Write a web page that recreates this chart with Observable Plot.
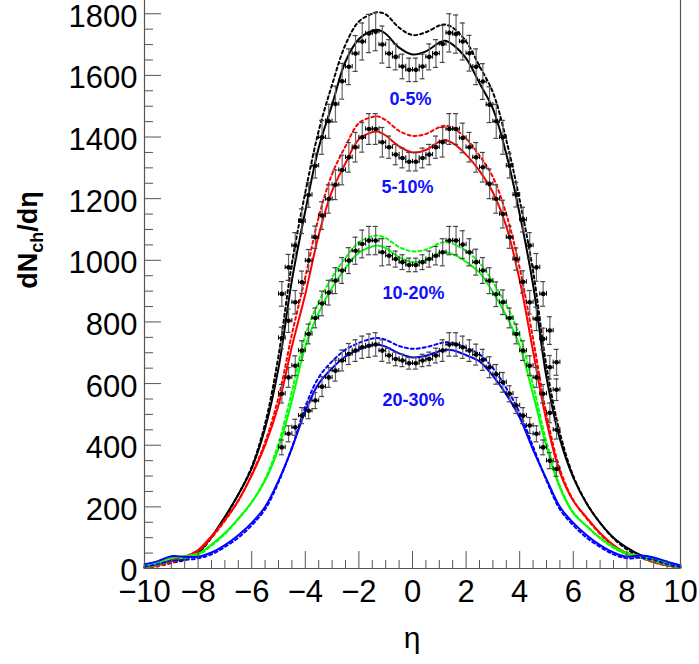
<!DOCTYPE html>
<html><head><meta charset="utf-8">
<script src="https://cdn.jsdelivr.net/npm/d3@7"></script>
<script src="https://cdn.jsdelivr.net/npm/@observablehq/plot@0.6"></script>
<style>body{margin:0;background:#fff} svg{display:block}</style>
</head><body><div id="chart"></div>
<script>
// ---- data ----
const classes = ["0-5%", "5-10%", "10-20%", "20-30%"];
const colors = ["#000000", "#ff0000", "#00ff00", "#0000ff"];

const curveEta = [-10,-9.5,-9,-8.5,-8,-7.5,-7,-6.5,-6,-5.5,-5,-4.5,-4,-3.5,-3,-2.5,-2,-1.5,-1.3,-1,-0.5,0,0.5,1,1.2,1.5,2,2.5,3,3.5,4,4.5,5,5.5,6,6.5,7,7.5,8,8.5,9,9.5,10];

const solid0 = [6,13,24,33,52,103,168,240,325,455,650,935,1160,1365,1505,1645,1718,1745,1748,1735,1690,1668,1678,1706,1712,1700,1655,1575,1492,1345,1150,920,620,420,295,210,148,100,68,44,28,15,4];
const dashed0 = [3,8,18,28,50,100,165,240,330,470,690,990,1220,1420,1570,1700,1775,1800,1805,1798,1755,1731,1740,1762,1765,1755,1710,1630,1545,1390,1195,965,655,440,300,212,148,98,62,38,22,10,2];
const solid1 = [4,12,28,38,60,105,158,220,302,400,530,720,890,1082,1225,1315,1393,1416,1418,1405,1370,1350,1358,1385,1390,1380,1343,1290,1220,1110,935,705,478,312,220,165,115,76,50,40,26,14,4];
const dashed1 = [2,8,20,32,55,100,155,220,305,410,555,760,945,1140,1280,1370,1445,1465,1467,1455,1420,1404,1410,1432,1437,1430,1395,1340,1270,1150,975,745,500,322,222,162,112,72,46,35,20,9,2];
const solid2 = [8,18,35,40,48,78,115,162,215,285,390,545,720,830,912,975,1025,1045,1048,1040,1010,994,1000,1022,1026,1020,995,960,897,820,722,565,395,262,180,138,100,70,50,40,32,18,6];
const dashed2 = [4,12,25,33,44,74,112,160,215,290,405,575,755,865,945,1008,1058,1078,1080,1072,1043,1029,1035,1055,1059,1054,1030,992,930,855,755,595,410,268,182,137,98,67,46,36,24,12,3];
const solid3 = [14,24,40,38,38,52,76,108,148,200,285,390,510,600,650,688,710,725,727,720,698,685,690,705,709,708,692,672,625,565,490,385,290,200,148,108,76,52,38,42,36,22,10];
const dashed3 = [6,14,25,28,33,46,70,100,140,192,280,392,525,620,672,710,732,746,748,742,722,713,718,730,734,732,716,695,650,585,505,395,285,192,140,100,70,46,33,35,28,14,5];

const dataEta = [-4.875,-4.625,-4.375,-4.125,-3.875,-3.625,-3.375,-3.125,-2.875,-2.625,-2.375,-2.125,-1.875,-1.625,-1.375,-1.125,-0.875,-0.625,-0.375,-0.125,0.125,0.375,0.625,0.875,1.125,1.375,1.625,1.875,2.125,2.375,2.625,2.875,3.125,3.375,3.625,3.875,4.125,4.375,4.625,4.875,5.125,5.375];
const data0 = [891,977,1048,1127,1212,1307,1399,1451,1507,1581,1628,1671,1710,1736,1742,1700,1671,1660,1629,1618,1618,1629,1660,1671,1702,1738,1734,1710,1672,1628,1580,1505,1451,1399,1307,1213,1132,1048,977,891,772,669];
const data1 = [748,804,864,929,999,1075,1145,1199,1245,1293,1334,1367,1399,1426,1426,1383,1367,1343,1332,1320,1320,1332,1343,1367,1383,1426,1426,1397,1367,1334,1302,1248,1199,1150,1075,1004,930,864,810,745,653,580];
const data2 = [567,620,658,707,761,813,860,895,934,967,999,1031,1053,1064,1064,1026,1015,1004,994,985,985,994,1004,1015,1026,1064,1064,1051,1026,994,967,934,890,864,813,761,707,658,620,567,505,450];
const data3 = [393,437,458,496,512,545,590,620,642,675,696,707,718,723,727,707,691,680,675,666,666,675,680,691,707,727,727,718,707,694,677,653,630,604,567,529,496,464,437,393,350,323];
const err0 = [40,42,42,40,40,40,55,55,58,58,58,58,60,62,62,60,45,42,40,38,38,40,42,45,60,62,62,60,58,58,58,58,55,55,40,40,40,42,45,40,45,42];
const err1 = [35,38,38,36,36,36,45,46,48,48,48,48,48,50,50,48,36,33,32,30,30,32,33,36,48,50,50,48,48,48,48,48,46,45,36,36,36,38,38,35,38,35];
const err2 = [30,32,32,32,32,32,40,40,42,42,42,44,45,46,46,44,30,26,24,22,22,24,26,30,44,46,46,45,44,42,42,42,40,40,32,32,32,32,32,30,32,30];
const err3 = [24,26,26,26,26,26,32,32,34,34,34,35,36,38,38,35,24,22,20,19,19,20,22,24,35,38,38,36,35,34,34,34,32,32,26,26,26,26,26,24,26,24];
const etaHalfWidth = 0.125;

const labelEta = [-0.07, -0.19, 0.04, 0.04];
const labelVal = [1523, 1236, 892, 545];

const xMajor = [-10,-8,-6,-4,-2,0,2,4,6,8,10];
const yMajor = [0,200,400,600,800,1000,1200,1400,1600,1800];

// ---- layout ----
const W = 699, H = 664;
const mL = 144, mR = 19, mT = 0, mB = 96;
const yMax = 1843;
const dY = yMax / (H - mT - mB);   // data units per pixel (y)
const dX = 20 / (W - mL - mR);     // data units per pixel (x)
const FONT = "'Liberation Sans', Arial, Helvetica, sans-serif";

const solids = [solid0, solid1, solid2, solid3];
const dasheds = [dashed0, dashed1, dashed2, dashed3];
const datas = [data0, data1, data2, data3];
const errs = [err0, err1, err2, err3];

const pts = [];
datas.forEach((arr, k) => arr.forEach((v, i) => pts.push({k, eta: dataEta[i], v, e: errs[k][i]})));

const xMinor = d3.range(-10, 10.001, 0.5).filter(d => !xMajor.includes(d));
const yMinor = d3.range(0, yMax, 50).filter(d => !yMajor.includes(d));

const marks = [];
classes.forEach((c, k) => {
  const rows = curveEta.map((e, i) => ({eta: e, s: solids[k][i], d: dasheds[k][i]}));
  marks.push(Plot.line(rows, {x: "eta", y: "d", stroke: colors[k], strokeWidth: 2, strokeDasharray: "3,3", curve: "catmull-rom"}));
  marks.push(Plot.line(rows, {x: "eta", y: "s", stroke: colors[k], strokeWidth: 2, curve: "catmull-rom"}));
});

const capX = 2.5 * dX, capY = 2.2 * dY;
marks.push(
  Plot.ruleX(pts, {x: "eta", y1: d => d.v - d.e, y2: d => d.v + d.e, stroke: "#666", strokeWidth: 1.2}),
  Plot.ruleY(pts, {y: d => d.v + d.e, x1: d => d.eta - capX, x2: d => d.eta + capX, stroke: "#444", strokeWidth: 1.2}),
  Plot.ruleY(pts, {y: d => d.v - d.e, x1: d => d.eta - capX, x2: d => d.eta + capX, stroke: "#444", strokeWidth: 1.2}),
  Plot.ruleY(pts, {y: "v", x1: d => d.eta - etaHalfWidth, x2: d => d.eta + etaHalfWidth, stroke: "#000", strokeWidth: 1.2}),
  Plot.ruleX(pts, {x: d => d.eta - etaHalfWidth, y1: d => d.v - capY, y2: d => d.v + capY, stroke: "#000", strokeWidth: 1}),
  Plot.ruleX(pts, {x: d => d.eta + etaHalfWidth, y1: d => d.v - capY, y2: d => d.v + capY, stroke: "#000", strokeWidth: 1}),
  Plot.dot(pts, {x: "eta", y: "v", r: 2.3, fill: "#000", stroke: "none"})
);

marks.push(
  Plot.text(classes, {x: (d, i) => labelEta[i], y: (d, i) => labelVal[i], text: d => d, fill: "#1010ff", fontWeight: "bold", fontSize: 18, textAnchor: "middle", lineAnchor: "middle"})
);

// frame + ticks (inside)
marks.push(
  Plot.ruleX(xMajor, {x: d => d, y1: 0, y2: 17 * dY, stroke: "#555", strokeWidth: 1}),
  Plot.ruleX(xMinor, {x: d => d, y1: 0, y2: 8 * dY, stroke: "#555", strokeWidth: 1}),
  Plot.ruleY(yMajor, {y: d => d, x1: -10, x2: -10 + 17 * dX, stroke: "#555", strokeWidth: 1}),
  Plot.ruleY(yMinor, {y: d => d, x1: -10, x2: -10 + 9 * dX, stroke: "#555", strokeWidth: 1}),
  Plot.ruleX([-10, 10], {y1: 0, y2: yMax, stroke: "#555", strokeWidth: 1.2}),
  Plot.ruleY([0], {x1: -10, x2: 10, stroke: "#555", strokeWidth: 1.2}),
  Plot.axisX({ticks: xMajor, tickSize: 0, tickPadding: 11, fontSize: 31, label: null, tickFormat: d => (d < 0 ? "\u2212" + Math.abs(d) : String(d))}),
  Plot.axisY({ticks: yMajor, tickSize: 0, tickPadding: 7, fontSize: 31, label: null, dy: 3, tickFormat: d => String(d)})
);

const svgNode = Plot.plot({
  width: W, height: H,
  marginLeft: mL, marginRight: mR, marginTop: mT, marginBottom: mB,
  x: {domain: [-10, 10]},
  y: {domain: [0, yMax]},
  style: {fontFamily: FONT, color: "#000", background: "#fff", overflow: "visible"},
  marks
});
document.getElementById("chart").appendChild(svgNode);

const svg = d3.select(svgNode);
const yt = svg.append("text")
  .attr("transform", "translate(37,240) rotate(-90)")
  .attr("text-anchor", "middle")
  .attr("font-family", FONT)
  .attr("font-weight", "bold")
  .attr("font-size", 27)
  .attr("fill", "#000");
yt.append("tspan").text("dN");
yt.append("tspan").attr("font-size", 18).attr("dy", 6).text("ch");
yt.append("tspan").attr("dy", -6).text("/dη");

svg.append("text")
  .attr("x", 412).attr("y", 648)
  .attr("text-anchor", "middle")
  .attr("font-family", FONT)
  .attr("font-size", 30)
  .attr("fill", "#000")
  .text("η");
</script>
</body></html>
